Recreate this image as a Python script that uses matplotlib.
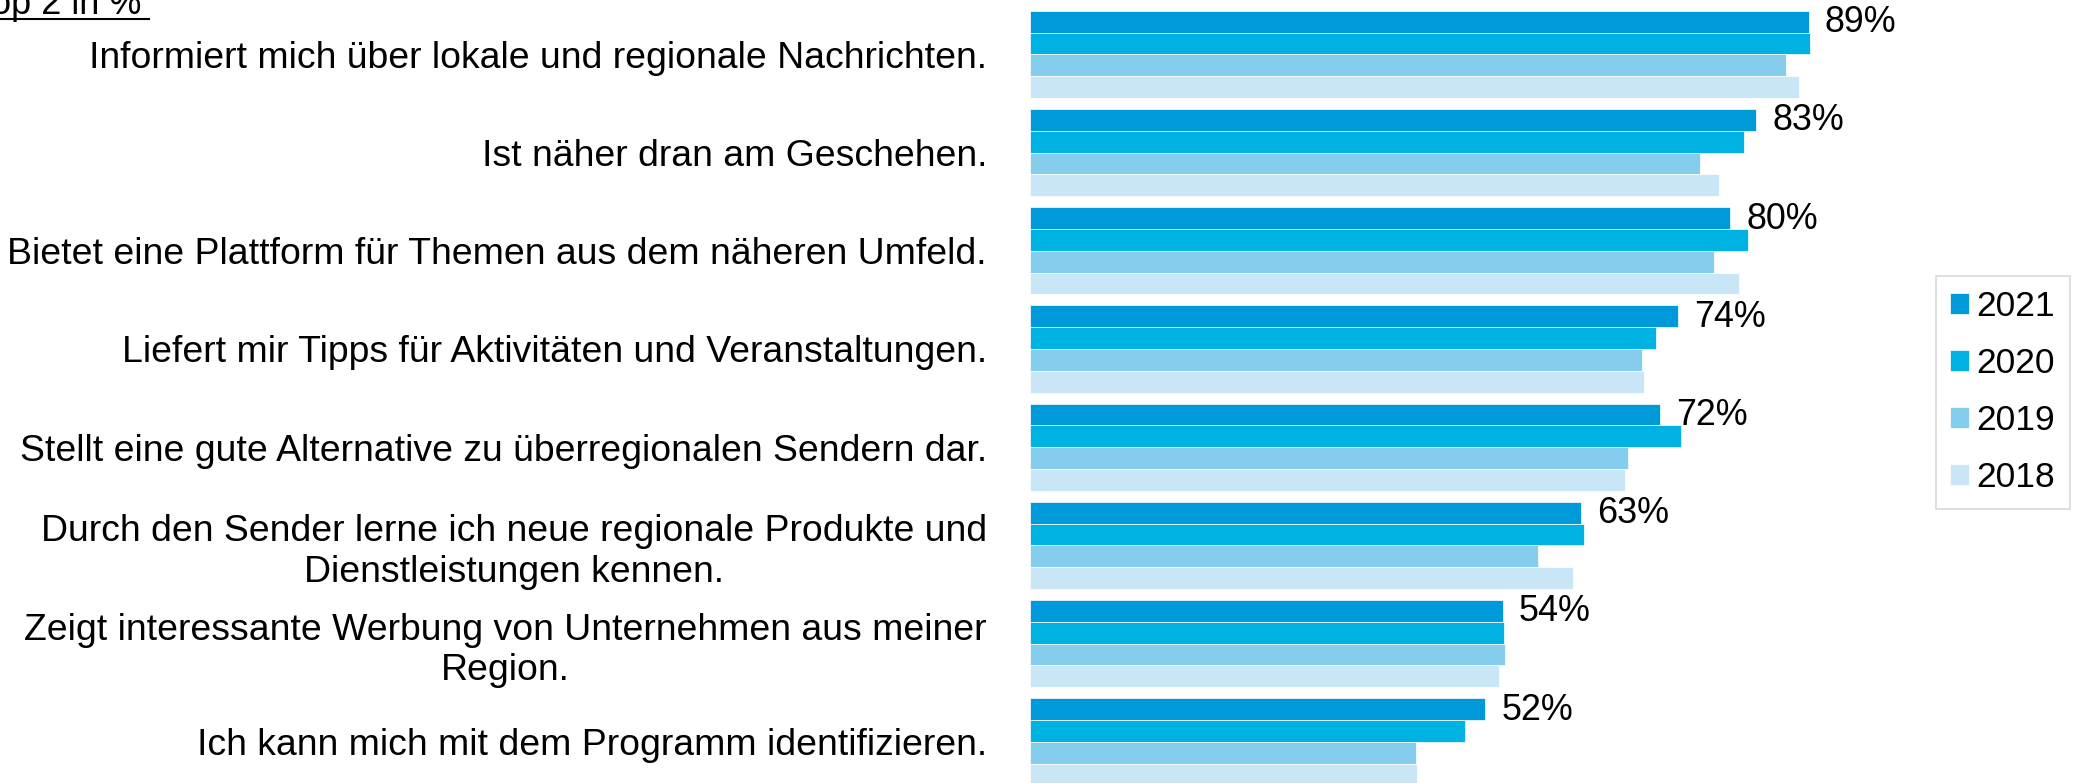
import matplotlib
matplotlib.use("Agg")
from matplotlib import pyplot as plt
from matplotlib.lines import Line2D
import numpy as np

W, H, DPI = 2078, 783, 100

categories = [
    "Informiert mich über lokale und regionale Nachrichten.",
    "Ist näher dran am Geschehen.",
    "Bietet eine Plattform für Themen aus dem näheren Umfeld.",
    "Liefert mir Tipps für Aktivitäten und Veranstaltungen.",
    "Stellt eine gute Alternative zu überregionalen Sendern dar.",
    "Durch den Sender lerne ich neue regionale Produkte und\nDienstleistungen kennen.",
    "Zeigt interessante Werbung von Unternehmen aus meiner\nRegion.",
    "Ich kann mich mit dem Programm identifizieren.",
]
years = ["2021", "2020", "2019", "2018"]
v2021 = [89, 83, 80, 74, 72, 63, 54, 52]
v2020 = [89.1, 81.6, 82.0, 71.5, 74.4, 63.3, 54.2, 49.7]
v2019 = [86.4, 76.6, 78.2, 69.9, 68.3, 58.1, 54.3, 44.1]
v2018 = [87.9, 78.7, 81.0, 70.2, 68.0, 62.1, 53.6, 44.2]
labels_2021 = ["89%", "83%", "80%", "74%", "72%", "63%", "54%", "52%"]
colors = ["#0099DA", "#00B2E2", "#84CDEC", "#C9E6F6"]

plt.rcParams["font.family"] = ["Liberation Sans", "DejaVu Sans"]

fig = plt.figure(figsize=(W / DPI, H / DPI), dpi=DPI)

# axes: bars start at x=1030px, 100% = 875px; one group = 98.2px
left_px, unit_px = 1030, 875
ax = fig.add_axes([left_px / W, 0, unit_px / W, 1])

h = 0.222
ypos = np.arange(len(categories))
series = [v2021, v2020, v2019, v2018]
for k, (vals, col, yr) in enumerate(zip(series, colors, years)):
    ax.barh(ypos + (k - 1.5) * h, vals, height=h, color=col,
            edgecolor="white", linewidth=0.5, label=yr)

for y, v, lab in zip(ypos, v2021, labels_2021):
    ax.text(v + 1.85, y - 1.5 * h + 0.01, lab, va="center", ha="left",
            fontsize=25.8, clip_on=False)

ax.set_xlim(0, 100)
ax.set_ylim(7.420, -0.5535)
ax.set_yticks(ypos)
ax.set_yticklabels(categories, fontsize=26.9)
for lbl in ax.get_yticklabels():
    lbl.set_multialignment("center")
ax.tick_params(axis="y", length=0, pad=31)
ax.set_xticks([])
for s in ax.spines.values():
    s.set_visible(False)

# legend
handles, labs = ax.get_legend_handles_labels()
leg = fig.legend(handles, labs, loc="upper left",
                 bbox_to_anchor=(1936 / W, 1 - 276 / H),
                 fontsize=25.5, frameon=True, fancybox=False,
                 edgecolor="#D9D9D9", framealpha=1,
                 handlelength=0.53, handleheight=0.53,
                 handletextpad=0.22, labelspacing=0.68,
                 borderpad=0.4, borderaxespad=0)
leg.get_frame().set_linewidth(1.2)

# title, partly cut off at the top-left like the original
fig.text(-27 / W, 1 - 14 / H, "Top 2 in %", fontsize=26,
         ha="left", va="baseline")
fig.add_artist(Line2D([0, 149 / W], [1 - 19 / H] * 2,
                      transform=fig.transFigure, color="black", lw=1.5))

plt.savefig("out.png", dpi=DPI)
